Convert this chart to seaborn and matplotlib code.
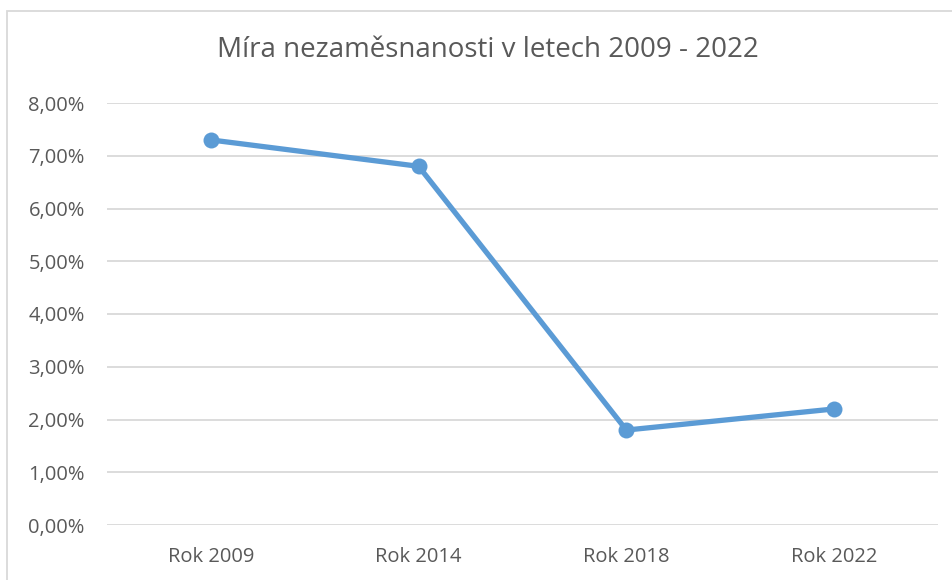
import matplotlib
matplotlib.use("Agg")
import matplotlib.pyplot as plt
import seaborn as sns
import pandas as pd
from matplotlib.ticker import FuncFormatter
from matplotlib.patches import Rectangle

categories = ["Rok 2009", "Rok 2014", "Rok 2018", "Rok 2022"]
values = [7.3, 6.8, 1.8, 2.2]
title = "Míra nezaměsnanosti v letech 2009 - 2022"

df = pd.DataFrame({"rok": categories, "mira": values})

sns.set_theme(style="white")
plt.rcParams["font.family"] = ["Open Sans", "DejaVu Sans"]

fig = plt.figure(figsize=(9.53, 5.8), dpi=100)
ax = fig.add_axes([107/953, 1-525/580, (938-107)/953, (525-103)/580])

sns.lineplot(data=df, x="rok", y="mira", ax=ax, color="#5B9BD5", linewidth=3.8,
             marker="o", markersize=11.5, markeredgewidth=0, sort=False)

ax.set_xlim(-0.5, 3.5)
ax.set_ylim(0, 8)
ax.set_yticks(range(0, 9))
ax.yaxis.set_major_formatter(FuncFormatter(lambda v, p: f"{v:.2f}".replace(".", ",") + "%"))
ax.grid(axis="y", color="#D9D9D9", linewidth=1.3)
ax.set_axisbelow(True)
for s in ax.spines.values():
    s.set_visible(False)
ax.tick_params(axis="both", length=0, labelsize=14.5, labelcolor="#595959")
ax.tick_params(axis="y", pad=16)
ax.tick_params(axis="x", pad=16)
ax.set_xlabel("")
ax.set_ylabel("")

fig.text(488/953, 1-50/580, title, ha="center", va="center", fontsize=20, color="#595959")

fig.patches.append(Rectangle((7/953, -0.1), 1.2, 1-11/580+0.1, transform=fig.transFigure,
                             fill=False, edgecolor="#D9D9D9", linewidth=1.3))

fig.savefig("out.png", dpi=100)
